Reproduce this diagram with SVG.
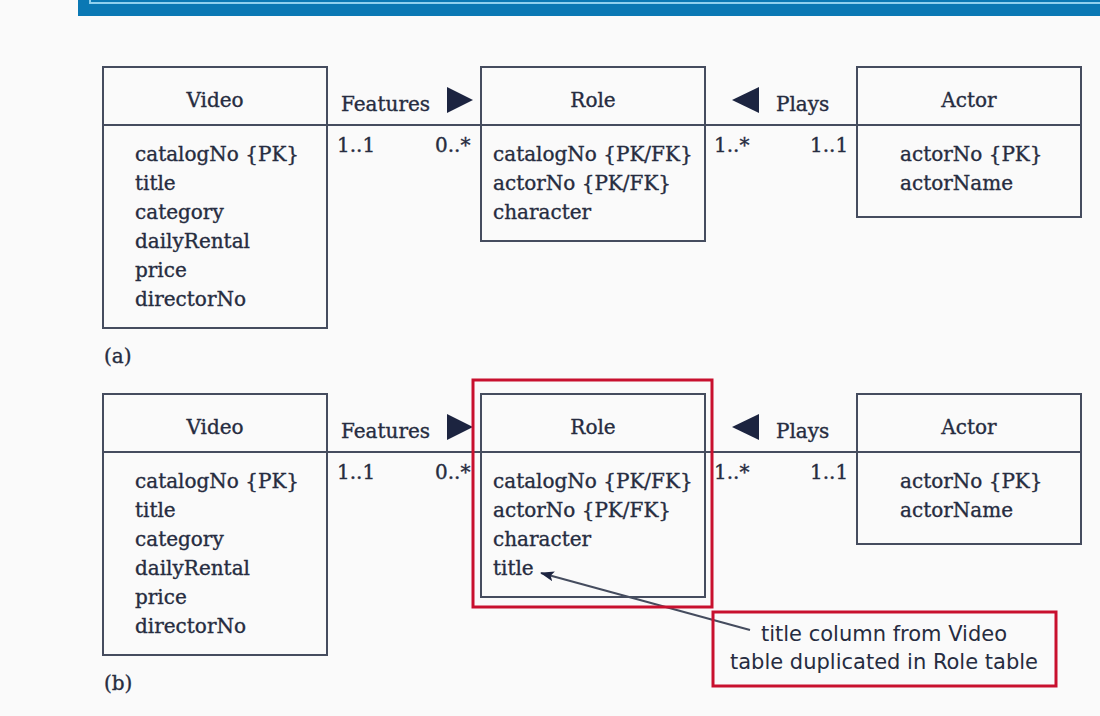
<svg xmlns="http://www.w3.org/2000/svg" width="1100" height="716" viewBox="0 0 1100 716">
<style>
.box{fill:none;stroke:#454c5e;stroke-width:2}
.ln{stroke:#454c5e;stroke-width:2;fill:none}
.t{font-family:"DejaVu Serif",serif;font-size:20px;fill:#262c40;stroke:#262c40;stroke-width:0.35}
.c{text-anchor:middle}
.red{fill:none;stroke:#c8102e;stroke-width:3}
.s{font-family:"DejaVu Sans",sans-serif;font-size:21px;fill:#262c40;text-anchor:middle}
.tri{fill:#1c2440}
</style>
<defs>
<marker id="ah" viewBox="0 0 14 12" refX="13" refY="6" markerWidth="14" markerHeight="12" markerUnits="userSpaceOnUse" orient="auto">
<path d="M0,1 L14,6 L0,11 L3,6 z" fill="#1c2440"/>
</marker>
</defs>
<rect width="1100" height="716" fill="#fafafa"/>
<g id="banner">
<rect x="78" y="0" width="1022" height="16" fill="#0a78b4"/>
<line x1="90" y1="3" x2="1100" y2="3" stroke="#8fd0ee" stroke-width="2"/>
<line x1="90" y1="0" x2="90" y2="4" stroke="#8fd0ee" stroke-width="2"/>
</g>
<g id="connectors">
<line class="ln" x1="327" y1="125" x2="481" y2="125"/>
<line class="ln" x1="705" y1="125" x2="857" y2="125"/>
<line class="ln" x1="327" y1="452" x2="481" y2="452"/>
<line class="ln" x1="705" y1="452" x2="857" y2="452"/>
<polygon class="tri" points="447,87 473,100 447,113"/>
<polygon class="tri" points="732,100 759,87 759,113"/>
<polygon class="tri" points="447,414 473,427 447,440"/>
<polygon class="tri" points="732,427 759,414 759,440"/>
<text class="t" x="341" y="111">Features</text>
<text class="t" x="337" y="152">1..1</text>
<text class="t" x="435" y="152">0..*</text>
<text class="t" x="776" y="111">Plays</text>
<text class="t" x="714" y="152">1..*</text>
<text class="t" x="810" y="152">1..1</text>
<text class="t" x="341" y="438">Features</text>
<text class="t" x="337" y="479">1..1</text>
<text class="t" x="435" y="479">0..*</text>
<text class="t" x="776" y="438">Plays</text>
<text class="t" x="714" y="479">1..*</text>
<text class="t" x="810" y="479">1..1</text>
<line class="ln" x1="750" y1="630" x2="541" y2="573" stroke="#1c2440" stroke-width="3" marker-end="url(#ah)"/>
</g>
<g id="video-a">
<rect class="box" x="103" y="67" width="224" height="261"/>
<line class="ln" x1="103" y1="125" x2="327" y2="125"/>
<text class="t c" x="215" y="107">Video</text>
<text class="t" x="135" y="161">catalogNo {PK}</text>
<text class="t" x="135" y="190">title</text>
<text class="t" x="135" y="219">category</text>
<text class="t" x="135" y="248">dailyRental</text>
<text class="t" x="135" y="277">price</text>
<text class="t" x="135" y="306">directorNo</text>
</g>
<g id="role-a">
<rect class="box" x="481" y="67" width="224" height="174"/>
<line class="ln" x1="481" y1="125" x2="705" y2="125"/>
<text class="t c" x="593" y="107">Role</text>
<text class="t" x="493" y="161">catalogNo {PK/FK}</text>
<text class="t" x="493" y="190">actorNo {PK/FK}</text>
<text class="t" x="493" y="219">character</text>
</g>
<g id="actor-a">
<rect class="box" x="857" y="67" width="224" height="150"/>
<line class="ln" x1="857" y1="125" x2="1081" y2="125"/>
<text class="t c" x="969" y="107">Actor</text>
<text class="t" x="900" y="161">actorNo {PK}</text>
<text class="t" x="900" y="190">actorName</text>
</g>
<g id="label-a"><text class="t" x="104" y="363">(a)</text></g>
<g id="video-b">
<rect class="box" x="103" y="394" width="224" height="261"/>
<line class="ln" x1="103" y1="452" x2="327" y2="452"/>
<text class="t c" x="215" y="434">Video</text>
<text class="t" x="135" y="488">catalogNo {PK}</text>
<text class="t" x="135" y="517">title</text>
<text class="t" x="135" y="546">category</text>
<text class="t" x="135" y="575">dailyRental</text>
<text class="t" x="135" y="604">price</text>
<text class="t" x="135" y="633">directorNo</text>
</g>
<g id="role-b">
<rect class="box" x="481" y="394" width="224" height="203"/>
<line class="ln" x1="481" y1="452" x2="705" y2="452"/>
<text class="t c" x="593" y="434">Role</text>
<text class="t" x="493" y="488">catalogNo {PK/FK}</text>
<text class="t" x="493" y="517">actorNo {PK/FK}</text>
<text class="t" x="493" y="546">character</text>
<text class="t" x="493" y="575">title</text>
<rect class="red" x="473" y="380" width="239" height="227"/>
</g>
<g id="actor-b">
<rect class="box" x="857" y="394" width="224" height="150"/>
<line class="ln" x1="857" y1="452" x2="1081" y2="452"/>
<text class="t c" x="969" y="434">Actor</text>
<text class="t" x="900" y="488">actorNo {PK}</text>
<text class="t" x="900" y="517">actorName</text>
</g>
<g id="callout">
<rect class="red" x="713" y="612" width="343" height="74"/>
<text class="s" x="884" y="641">title column from Video</text>
<text class="s" x="884" y="669">table duplicated in Role table</text>
</g>
<g id="label-b"><text class="t" x="104" y="690">(b)</text></g>
</svg>
